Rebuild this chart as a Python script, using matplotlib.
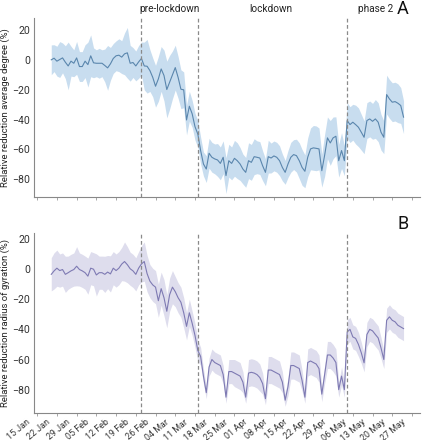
import numpy as np
import pandas as pd
import matplotlib
matplotlib.use("Agg")
import matplotlib.pyplot as plt
import matplotlib.dates as mdates
import matplotlib.transforms as mtransforms

plt.rcParams["font.family"] = ["Roboto", "DejaVu Sans"]

# ==========================================================
# Data (daily, 20 Jan 2020 - 24 May 2020)
# ==========================================================

START_DATE = "2020-01-20"

degree_mean = [
    0, 1.1, -0.9, 0.2, 1.3, -1.6, -4.1, -0.9, -2.3, 1.3,
    -4.5, -4.5, -0.9, -3.2, 2.7, -2, -2.3, -2.3, -2.3, -3.8,
    -5.4, -2.7, 0.9, 2.7, 3.1, 1.8, 4, 4.7, -2.3, -1.8,
    -4.1, -1.4, 0.9,
    -4.1, -4.3, -7.2, -11.7, -17.7, -12.8, -6.1, -10.5, -19.9, -15,
    -10.1, -5.2, -11.7, -19.7, -20.1, -40.3, -31.1, -36.2, -44.8, -49.7,
    -60.8, -69.8, -73.2, -62.6, -65.3, -66.4, -67.1, -69.4, -65.3, -77.6,
    -67.6, -69.4, -66, -67.6, -69.8, -73.2, -75.4,
    -67.6, -68.7, -64.9, -65.3, -65.8, -71, -75.4,
    -64.9, -65.8, -64.4, -65.3, -67.6, -72.1, -75.4,
    -69.8, -65.3, -63.5, -64.2, -67.6, -72.1, -74.7,
    -65.3, -59.7, -59, -59.3, -59.7, -74.3, -64,
    -52.3, -55.7, -52.3, -51.2, -67.6, -60.8, -67.6,
    -40.7, -43.4, -41.8, -43.4, -45.2, -48.5, -51.9,
    -40.7, -39.6, -41.2, -39.6, -41.8, -48.5, -51.9,
    -23.3, -26.2, -28.4, -28, -29.1, -30.6, -38.4,
]

degree_spread = [
    10, 9, 10, 12, 10, 11, 16, 10, 9, 11,
    10, 10, 11, 15, 14, 10, 9, 10, 9, 11,
    15, 11, 10, 10, 11, 11, 14, 17, 12, 10,
    10, 11, 11,
    16, 18, 14, 13, 14, 15, 15, 17, 19, 18,
    16, 15, 14, 13, 12, 10, 10, 9, 9, 9,
    9, 8, 9, 10, 10, 10, 11, 11, 11, 12,
    11, 11, 12, 12, 11, 10, 10,
    12, 12, 12, 11, 11, 10, 9,
    11, 10, 10, 10, 10, 9, 8,
    9, 10, 10, 11, 12, 12, 11,
    13, 14, 15, 15, 14, 11, 14,
    14, 15, 14, 13, 11, 12, 10,
    12, 12, 12, 13, 13, 12, 11,
    12, 12, 12, 13, 13, 12, 11,
    13, 13, 13, 13, 13, 12, 11,
]

gyration_mean = [
    -3.5, -1.2, 0.6, -1, -0.3, -3.5, -2.4, -1.2, -0.3, 1.9,
    -0.3, -1.2, -2.4, -4.7, 0.6, -0.1, -3.9, -2.4, -2.4, -3.5,
    -2, -3.2, 0.6, -1, 0.6, 3.3, 5, 2.9, 0.2, -1.2,
    -3.5, 0.6, 3.4,
    5, -3, -8, -10.5, -12, -21, -13, -19, -28, -17,
    -12, -15, -19, -22, -29, -38, -29, -36, -44, -54,
    -58, -71, -82, -65, -60, -62, -63, -64, -70, -85,
    -68, -68, -69, -70, -71, -75, -85,
    -69, -68.5, -69, -70, -72, -76, -86,
    -67, -67, -68, -69, -70, -75, -87,
    -78, -64, -64, -65, -66, -74, -85,
    -62, -61, -62, -63, -66, -83, -70,
    -57, -57, -59, -62, -80, -71, -80,
    -41.7, -40, -45, -46, -50, -55.5, -62.2,
    -43.4, -40, -41, -43.4, -45.7, -52.3, -60,
    -34, -31.7, -34, -35, -37.3, -38.4, -39.5,
]

gyration_spread = [
    11, 12, 12, 11, 11, 12, 11, 11, 11, 13,
    11, 11, 11, 12, 11, 11, 14, 11, 11, 12,
    11, 12, 11, 11, 11, 11, 13, 12, 11, 11,
    11, 11, 12,
    13, 12, 11, 11, 11, 11, 11, 12, 11, 11,
    11, 10, 10, 10, 10, 9, 9, 8, 8, 7,
    6, 5, 4, 6, 7, 7, 7, 7, 6, 4,
    8, 8, 9, 9, 9, 7, 4,
    9, 9, 9, 9, 9, 7, 4,
    9, 9, 9, 9, 9, 7, 4,
    6, 9, 9, 9, 9, 7, 4,
    9, 9, 9, 9, 9, 5, 6,
    9, 9, 9, 9, 5, 6, 5,
    8, 8, 8, 8, 8, 7, 6,
    8, 8, 8, 8, 8, 7, 6,
    8, 8, 8, 8, 8, 8, 8,
]

phase_dates = ["2020-02-21", "2020-03-12", "2020-05-04"]
phase_labels = ["pre-lockdown", "lockdown", "phase 2"]
phase_label_dates = ["2020-03-02", "2020-04-07", "2020-05-14"]

tick_dates = pd.date_range("2020-01-15", "2020-05-27", freq="7D")

# ==========================================================
# Plot
# ==========================================================

dates = pd.date_range(START_DATE, periods=len(degree_mean), freq="D")

fig = plt.figure(figsize=(4.22, 4.40), dpi=100)
ax_top = fig.add_axes([0.081, 0.552, 0.914, 0.407])
ax_bot = fig.add_axes([0.081, 0.061, 0.914, 0.409])

panels = [
    (ax_top, degree_mean, degree_spread, "#5a86ad", "#c8ddef",
     "Relative reduction average degree (%)", (-92, 28), "A"),
    (ax_bot, gyration_mean, gyration_spread, "#7e7ab3", "#dedded",
     "Relative reduction radius of gyration (%)", (-95.6, 23.8), "B"),
]

x_left = pd.Timestamp("2020-01-15") - pd.Timedelta(days=1.06)
x_right = pd.Timestamp("2020-01-15") + pd.Timedelta(days=135.8)

for ax, mean, spread, line_color, band_color, ylabel, ylim, letter in panels:
    mean = np.array(mean, dtype=float)
    spread = np.array(spread, dtype=float)

    ax.fill_between(dates, mean - spread, mean + spread,
                    color=band_color, linewidth=0)
    ax.plot(dates, mean, color=line_color, linewidth=0.8)

    for d in phase_dates:
        ax.axvline(pd.Timestamp(d), color="#8a8a8a", linestyle="--",
                   linewidth=0.9, dashes=(3, 2))

    ax.set_xlim(x_left, x_right)
    ax.set_ylim(*ylim)
    ax.set_yticks([-80, -60, -40, -20, 0, 20])
    ax.set_xticks(tick_dates)
    ax.xaxis.set_major_formatter(mdates.DateFormatter("%d %b"))

    ax.set_ylabel(ylabel, fontsize=6.8, color="#222222")
    ax.yaxis.set_label_coords(-0.062, 0.5)
    ax.tick_params(axis="y", length=0, labelsize=7.6, colors="#333333", pad=3)
    ax.tick_params(axis="x", length=2.5, width=0.6, color="#999999",
                   labelsize=6.4, labelcolor="#333333", pad=0.5)

    for side in ["top", "right"]:
        ax.spines[side].set_visible(False)
    for side in ["left", "bottom"]:
        ax.spines[side].set_color("#888888")
        ax.spines[side].set_linewidth(0.8)

    ax.text(0.97, 1.0, letter, transform=ax.transAxes, fontsize=13,
            ha="right", va="bottom", color="#111111")

for d, label in zip(phase_label_dates, phase_labels):
    ax_top.text(pd.Timestamp(d), 1.02, label,
                transform=ax_top.get_xaxis_transform(),
                ha="center", va="bottom", fontsize=7.2, color="#222222")

ax_top.tick_params(axis="x", labelbottom=False)

offset = mtransforms.ScaledTranslation(-5 / 100, 0, fig.dpi_scale_trans)
for label in ax_bot.get_xticklabels():
    label.set_rotation(40)
    label.set_ha("right")
    label.set_transform(label.get_transform() + offset)

fig.savefig("out.png", dpi=100)
